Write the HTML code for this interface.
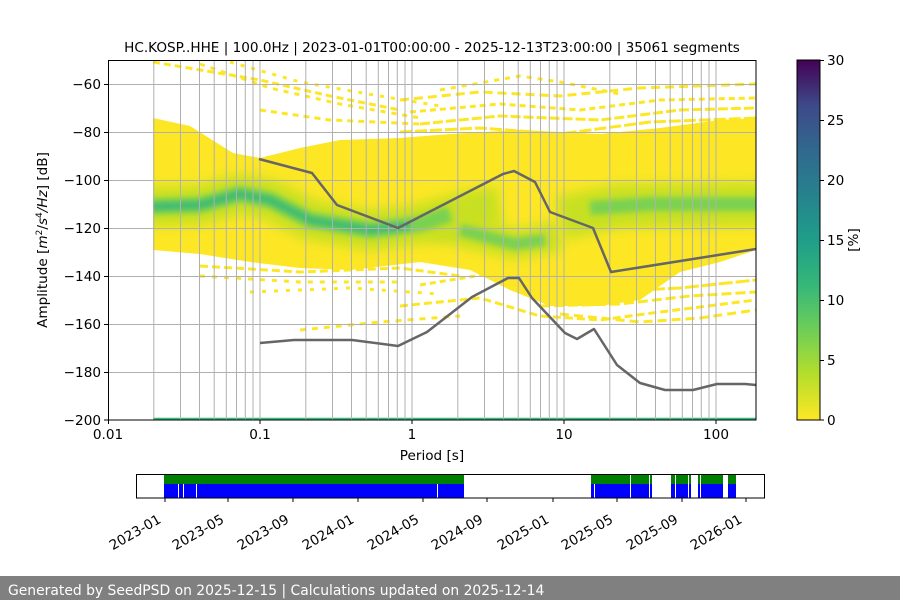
<!DOCTYPE html>
<html><head><meta charset="utf-8"><style>
html,body{margin:0;padding:0;background:#fff;width:900px;height:600px;overflow:hidden}
svg text{font-family:"DejaVu Sans","Liberation Sans",sans-serif;fill:#000}
</style></head><body>
<svg width="900" height="600" viewBox="0 0 900 600" xmlns="http://www.w3.org/2000/svg">
<defs>
<linearGradient id="vir" x1="0" y1="1" x2="0" y2="0">
<stop offset="0" stop-color="#fde725"/><stop offset="0.125" stop-color="#b5de2b"/><stop offset="0.25" stop-color="#6ece58"/><stop offset="0.375" stop-color="#35b779"/><stop offset="0.5" stop-color="#1f9e89"/><stop offset="0.625" stop-color="#26828e"/><stop offset="0.75" stop-color="#31688e"/><stop offset="0.875" stop-color="#3e4989"/><stop offset="1" stop-color="#440154"/>
</linearGradient>
<filter id="bl" filterUnits="userSpaceOnUse" x="100" y="50" width="700" height="380"><feGaussianBlur stdDeviation="6"/></filter>
<filter id="bl2" filterUnits="userSpaceOnUse" x="100" y="50" width="700" height="380"><feGaussianBlur stdDeviation="3"/></filter>
<clipPath id="ax"><rect x="108" y="60" width="648" height="360"/></clipPath>
<clipPath id="env"><path d="M153 118 L190 126 L233 153 L260 158 L300 148 L340 140 L400 138 L450 134 L520 130 L600 134 L660 128 L720 120 L756 118 L756 250 L720 262 L680 272 L640 300 L600 306 L550 306 L510 290 L470 270 L420 262 L350 270 L300 268 L250 262 L200 254 L153 250 Z"/></clipPath>
</defs>
<text x="432" y="52" font-size="13.6" text-anchor="middle">HC.KOSP..HHE | 100.0Hz | 2023-01-01T00:00:00 - 2025-12-13T23:00:00 | 35061 segments</text>
<g clip-path="url(#ax)">
<g stroke="#fde725" stroke-width="3" fill="none">
<path d="M153 62 L260 80 L330 96 L400 110" stroke-dasharray="7 4"/>
<path d="M200 64 L270 88 L340 104 L420 118" stroke-dasharray="5 6"/>
<path d="M230 62 L300 82 L380 96 L440 106" stroke-dasharray="4 7"/>
<path d="M260 110 L330 120 L420 124" stroke-dasharray="6 5"/>
<path d="M400 100 L480 92 L560 96 L640 88 L756 84" stroke-dasharray="9 5"/>
<path d="M410 112 L500 104 L580 110 L660 100 L756 98" stroke-dasharray="6 4"/>
<path d="M420 124 L500 116 L600 120 L680 110 L756 108" stroke-dasharray="10 3"/>
<path d="M400 132 L480 128 L560 134 L650 122 L756 118" stroke-dasharray="12 3"/>
<path d="M420 142 L520 140 L620 136" stroke-dasharray="14 4"/>
<path d="M440 90 L520 76 L560 82 L620 94" stroke-dasharray="5 6"/>
<path d="M200 266 L300 272 L400 268 L460 276" stroke-dasharray="8 4"/>
<path d="M200 276 L300 282 L400 282" stroke-dasharray="5 7"/>
<path d="M250 292 L350 288 L440 294" stroke-dasharray="4 8"/>
<path d="M420 285 L500 272 L540 282" stroke-dasharray="6 4"/>
<path d="M300 330 L380 322 L460 316" stroke-dasharray="6 6"/>
<path d="M400 306 L480 298 L540 316 L600 320 L660 312 L756 300" stroke-dasharray="8 4"/>
<path d="M560 314 L640 322 L700 318 L756 310" stroke-dasharray="9 5"/>
<path d="M540 306 L620 304 L690 296 L756 292" stroke-dasharray="10 4"/>
<path d="M600 292 L680 288 L756 280" stroke-dasharray="14 3"/>
</g>
<path d="M153 118 L190 126 L233 153 L260 158 L300 148 L340 140 L400 138 L450 134 L520 130 L600 134 L660 128 L720 120 L756 118 L756 250 L720 262 L680 272 L640 300 L600 306 L550 306 L510 290 L470 270 L420 262 L350 270 L300 268 L250 262 L200 254 L153 250 Z" fill="#fde725"/>
<g fill="none" stroke-linecap="butt" stroke-linejoin="round" clip-path="url(#env)">
<path d="M140 207 L200 205 L240 194 L270 200 L310 220 L370 230 L420 224 L470 210 L500 206" stroke="#c8e020" stroke-width="40" filter="url(#bl)"/>
<path d="M430 224 L480 236 L515 244 L560 236" stroke="#c8e020" stroke-width="30" filter="url(#bl)"/>
<path d="M560 218 L620 206 L770 204" stroke="#c8e020" stroke-width="44" filter="url(#bl)"/>
<path d="M140 207 L200 205 L240 194 L270 200 L310 220 L370 230 L420 224 L450 214" stroke="#7ad151" stroke-width="16" filter="url(#bl2)"/>
<path d="M140 207 L200 205 L240 194 L270 200 L310 220 L370 230 L410 226" stroke="#35b779" stroke-width="7" filter="url(#bl2)" opacity="0.9"/>
<path d="M460 230 L515 244 L545 240" stroke="#7ad151" stroke-width="12" filter="url(#bl2)"/>
<path d="M590 208 L650 204 L770 204" stroke="#7ad151" stroke-width="14" filter="url(#bl2)"/>
</g>
<line x1="153" y1="419" x2="756" y2="419" stroke="#35b779" stroke-width="2.5"/>
</g>
<g stroke="#b0b0b0" stroke-width="1">
<path d="M108 84.5H756M108 132.5H756M108 180.5H756M108 228.5H756M108 276.5H756M108 324.5H756M108 372.5H756"/>
<path d="M153.8 60V420M180.5 60V420M199.5 60V420M214.2 60V420M226.3 60V420M236.5 60V420M245.3 60V420M253 60V420M260 60V420M305.8 60V420M332.5 60V420M351.5 60V420M366.2 60V420M378.3 60V420M388.5 60V420M397.3 60V420M405 60V420M412 60V420M457.8 60V420M484.5 60V420M503.5 60V420M518.2 60V420M530.3 60V420M540.5 60V420M549.3 60V420M557 60V420M564 60V420M609.8 60V420M636.5 60V420M655.5 60V420M670.2 60V420M682.3 60V420M692.5 60V420M701.3 60V420M709 60V420M716 60V420"/>
</g>
<g fill="none" stroke="#666" stroke-width="2.5" stroke-linejoin="round">
<polyline points="259,159 312,173 337,205 398,228 503,174 514,171 535,182 550,212 593,228 611,272 756,249"/>
<polyline points="260,343 294,340 352,340 398,346 427,332 472,297 508,278 519,278 532,298 565,333 577,339 594,329 617,365 640,383 665,390 693,390 717,384 745,384 756,385"/>
</g>
<rect x="108.5" y="60.5" width="647.5" height="359.5" fill="none" stroke="#000" stroke-width="1"/>
<g stroke="#000"><path d="M104 84.5H108M104 132.5H108M104 180.5H108M104 228.5H108M104 276.5H108M104 324.5H108M104 372.5H108M104 420H108M108.5 420V424M260 420V424M412 420V424M564 420V424M716 420V424"/></g>
<g font-size="13.6" text-anchor="end">
<text x="101" y="89">−60</text><text x="101" y="137">−80</text><text x="101" y="185">−100</text><text x="101" y="233">−120</text><text x="101" y="281">−140</text><text x="101" y="329">−160</text><text x="101" y="377">−180</text><text x="101" y="425">−200</text>
</g>
<g font-size="13.6" text-anchor="middle">
<text x="108" y="439">0.01</text><text x="260" y="439">0.1</text><text x="412" y="439">1</text><text x="564" y="439">10</text><text x="716" y="439">100</text>
<text x="432" y="460">Period [s]</text>
</g>
<text transform="translate(47,240) rotate(-90)" font-size="13.6" text-anchor="middle">Amplitude [<tspan font-style="italic">m</tspan><tspan font-size="9" dy="-5">2</tspan><tspan dy="5">/</tspan><tspan font-style="italic">s</tspan><tspan font-size="9" dy="-5">4</tspan><tspan dy="5" font-style="italic">/Hz</tspan>] [dB]</text>
<rect x="797" y="60" width="23" height="360" fill="url(#vir)" stroke="#000" stroke-width="1"/>
<g stroke="#000"><path d="M820 60.5H824M820 120.5H824M820 180.5H824M820 240.5H824M820 300.5H824M820 360.5H824M820 420H824"/></g>
<g font-size="13.6"><text x="827" y="65">30</text><text x="827" y="125">25</text><text x="827" y="185">20</text><text x="827" y="245">15</text><text x="827" y="305">10</text><text x="827" y="365">5</text><text x="827" y="425">0</text></g>
<text transform="translate(858,240) rotate(-90)" font-size="13.6" text-anchor="middle">[%]</text>
<g>
<rect x="164" y="474" width="300" height="10" fill="#008000"/>
<rect x="591" y="474" width="61" height="10" fill="#008000"/>
<rect x="671" y="474" width="20" height="10" fill="#008000"/>
<rect x="698" y="474" width="25" height="10" fill="#008000"/>
<rect x="728" y="474" width="8" height="10" fill="#008000"/>
<rect x="164" y="484" width="300" height="14" fill="#0000ff"/>
<rect x="591" y="484" width="61" height="14" fill="#0000ff"/>
<rect x="671" y="484" width="20" height="14" fill="#0000ff"/>
<rect x="698" y="484" width="25" height="14" fill="#0000ff"/>
<rect x="728" y="484" width="8" height="14" fill="#0000ff"/>
<g stroke="#fff" stroke-width="1"><path d="M178.5 484V498M183.5 484V498M196.5 484V498M437.5 484V498M594.5 484V498M630.5 474V498M649.5 474V498M675.5 474V498M688.5 474V498M700.5 474V498"/></g>
<rect x="136.5" y="474.5" width="628" height="23.5" fill="none" stroke="#000"/>
<g stroke="#000"><path d="M165 498V502M228 498V502M293 498V502M358 498V502M423 498V502M487 498V502M553 498V502M617 498V502M682 498V502M746 498V502"/></g>
<g font-size="13.6" text-anchor="end">
<text transform="translate(162,522) rotate(-30)">2023-01</text>
<text transform="translate(225,522) rotate(-30)">2023-05</text>
<text transform="translate(290,522) rotate(-30)">2023-09</text>
<text transform="translate(355,522) rotate(-30)">2024-01</text>
<text transform="translate(420,522) rotate(-30)">2024-05</text>
<text transform="translate(484,522) rotate(-30)">2024-09</text>
<text transform="translate(550,522) rotate(-30)">2025-01</text>
<text transform="translate(614,522) rotate(-30)">2025-05</text>
<text transform="translate(679,522) rotate(-30)">2025-09</text>
<text transform="translate(743,522) rotate(-30)">2026-01</text>
</g>
</g>
<rect x="0" y="576" width="900" height="24" fill="#808080"/>
<text x="8" y="595" font-size="13.9" style="fill:#fff">Generated by SeedPSD on 2025-12-15 | Calculations updated on 2025-12-14</text>
</svg>
</body></html>
